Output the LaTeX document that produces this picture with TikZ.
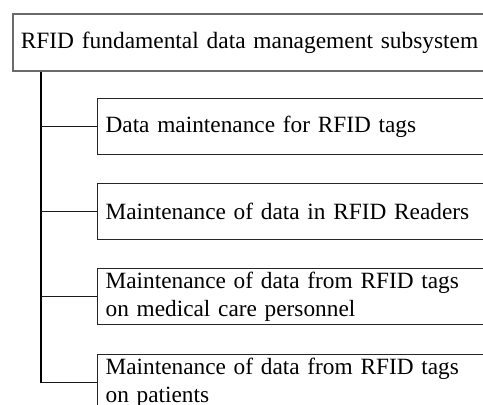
\documentclass[tikz,border=0pt]{standalone}
\usepackage{fontspec}
\setmainfont{Liberation Serif}
\definecolor{rootedge}{HTML}{6A6A6A}
\definecolor{leafedge}{HTML}{262626}
\definecolor{linkcol}{HTML}{1A1A1A}
\tikzset{
  rootbox/.style={draw=rootedge, line width=1.6pt, anchor=north west,
    minimum height=57pt, text width=480pt, inner xsep=8pt, inner ysep=0pt,
    align=left, font=\fontsize{23.4}{28}\selectfont},
  leafbox/.style={draw=leafedge, line width=1.2pt, anchor=north west,
    minimum height=56pt, text width=400pt, inner xsep=8pt, inner ysep=0pt,
    align=left, font=\fontsize{23.3}{28.5}\selectfont},
  trunkline/.style={draw=black, line width=2.4pt},
  branchline/.style={draw=linkcol, line width=1.5pt}
}
\begin{document}
\begin{tikzpicture}[x=1pt,y=-1pt]
  \useasboundingbox (0,0) rectangle (483,405);
  \clip (0,0) rectangle (483,405);
  \fill[white] (0,0) rectangle (483,405);

  % parent subsystem and its four maintenance modules
  \node[rootbox] (root) at (12,13) {RFID fundamental data management subsystem};
  \node[leafbox] (m1) at (97,98)  {Data maintenance for RFID tags};
  \node[leafbox] (m2) at (97,183) {Maintenance of data in RFID Readers};
  \node[leafbox] (m3) at (97,268) {Maintenance of data from RFID tags\\on medical care personnel};
  \node[leafbox] (m4) at (97,354) {Maintenance of data from RFID tags\\on patients};

  % tree connectors
  \coordinate (trunktop) at ([xshift=29pt]root.south west);
  \draw[trunkline] (trunktop) -- (trunktop |- m4.west);
  \foreach \m in {m1,m2,m3,m4}
    \draw[branchline] (trunktop |- \m.west) -- (\m.west);
\end{tikzpicture}
\end{document}
